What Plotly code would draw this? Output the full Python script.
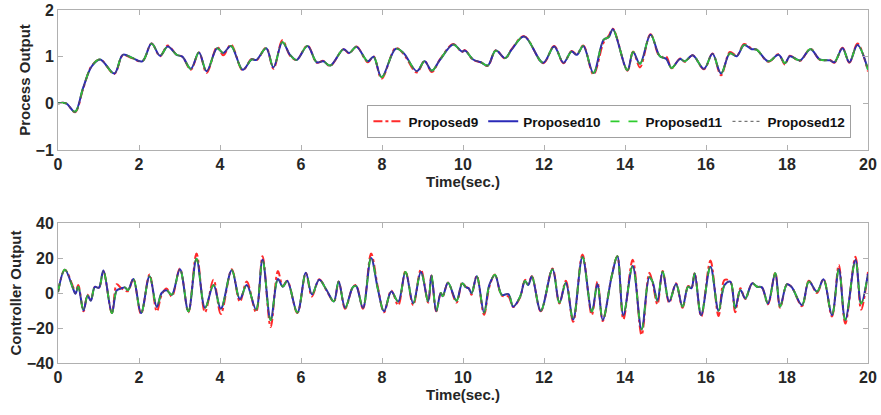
import plotly.graph_objects as go
from plotly.subplots import make_subplots

# ---- Process output (top panel) ----
t_top = [0, 0.2, 0.42, 0.62, 0.83, 1.04, 1.39, 1.6, 1.82, 2.08, 2.31, 2.52, 2.71, 2.93, 3.07,
         3.28, 3.48, 3.67, 3.93, 4.08, 4.27, 4.56, 4.78, 4.9, 5.14, 5.32, 5.54, 5.73, 5.89,
         6.16, 6.39, 6.55, 6.72, 7.05, 7.19, 7.37, 7.65, 7.79, 7.99, 8.34, 8.53, 8.86, 9.05,
         9.23, 9.43, 9.76, 9.97, 10.05, 10.25, 10.44, 10.61, 10.81, 11.04, 11.2, 11.51, 11.98,
         12.25, 12.48, 12.68, 12.81, 12.97, 13.22, 13.47, 13.6, 13.7, 14.06, 14.2, 14.37, 14.63,
         14.86, 15.02, 15.15, 15.36, 15.48, 15.67, 15.95, 16.16, 16.37, 16.59, 16.76, 16.94,
         17.13, 17.25, 17.54, 17.79, 17.95, 18.07, 18.32, 18.58, 18.81, 19.06, 19.17, 19.37,
         19.54, 19.74, 20.0]
y_p10 = [0, 0.0, -0.18, 0.33, 0.79, 0.94, 0.64, 1.04, 0.98, 0.90, 1.28, 1.02, 1.22, 1.04, 1.0,
         0.74, 1.09, 0.69, 1.18, 1.08, 1.23, 0.72, 0.94, 0.93, 1.18, 0.77, 1.31, 1.04, 0.93,
         1.23, 0.88, 0.90, 0.81, 1.16, 1.08, 1.21, 0.9, 1.0, 0.56, 1.17, 1.08, 0.69, 0.9,
         0.70, 0.93, 1.26, 1.11, 1.13, 0.94, 0.88, 0.81, 1.13, 0.97, 1.15, 1.43, 0.87,
         1.22, 0.87, 1.11, 1.04, 1.23, 0.65, 1.36, 1.42, 1.59, 0.71, 1.1, 0.85, 1.47,
         1.01, 0.95, 0.76, 0.95, 0.9, 1.03, 0.74, 1.06, 0.64, 1.07, 1.01, 1.25,
         1.16, 1.15, 0.9, 1.04, 0.86, 1.01, 0.92, 1.16, 0.94, 0.92, 0.88, 1.18,
         0.88, 1.25, 0.72]
y_p9 = [0, 0.0, -0.19, 0.31, 0.80, 0.94, 0.63, 1.03, 0.97, 0.90, 1.28, 1.01, 1.24, 1.04, 1.0,
        0.72, 1.09, 0.65, 1.21, 1.03, 1.26, 0.71, 0.95, 0.92, 1.19, 0.74, 1.35, 1.02, 0.93,
        1.24, 0.87, 0.91, 0.80, 1.16, 1.07, 1.22, 0.88, 1.01, 0.53, 1.19, 1.06, 0.66, 0.91,
        0.67, 0.94, 1.27, 1.10, 1.14, 0.93, 0.88, 0.80, 1.14, 0.96, 1.16, 1.44, 0.86,
        1.23, 0.86, 1.12, 1.05, 1.24, 0.62, 1.30, 1.45, 1.60, 0.70, 1.11, 0.77, 1.48,
        1.00, 1.00, 0.75, 0.96, 0.89, 1.03, 0.73, 1.07, 0.60, 1.10, 1.02, 1.27,
        1.17, 1.15, 0.89, 1.05, 0.83, 1.02, 0.91, 1.17, 0.93, 0.93, 0.87, 1.19,
        0.87, 1.28, 0.68]
y_p11 = list(y_p10)
y_p12 = list(y_p10)

# ---- Controller output (bottom panel) ----
t_bot = [0.0, 0.17, 0.38, 0.43, 0.5, 0.63, 0.73, 0.81, 0.91, 1.01, 1.12, 1.33, 1.45, 1.55, 1.65,
         1.73, 1.86, 2.05, 2.26, 2.44, 2.56, 2.68, 2.81, 3.01, 3.22, 3.42, 3.63, 3.84, 4.02,
         4.29, 4.49, 4.66, 4.89, 5.05, 5.25, 5.43, 5.55, 5.66, 5.91, 6.12, 6.27, 6.45, 6.63,
         6.81, 6.93, 7.09, 7.28, 7.36, 7.53, 7.73, 7.9, 8.05, 8.23, 8.4, 8.58, 8.77, 8.96,
         9.14, 9.22, 9.34, 9.45, 9.5, 9.63, 9.84, 9.98, 10.07, 10.14, 10.21, 10.34, 10.52,
         10.65, 10.79, 10.96, 11.12, 11.24, 11.41, 11.53, 11.61, 11.7, 11.92, 12.21, 12.38,
         12.54, 12.72, 12.95, 13.18, 13.32, 13.45, 13.67, 13.81, 13.96, 14.19, 14.41, 14.6,
         14.68, 14.8, 14.93, 15.09, 15.26, 15.42, 15.56, 15.64, 15.72, 15.88, 16.11, 16.31,
         16.46, 16.6, 16.72, 16.85, 16.97, 17.14, 17.26, 17.38, 17.53, 17.71, 17.83, 18.0,
         18.11, 18.37, 18.54, 18.74, 18.9, 19.11, 19.28, 19.44, 19.69, 19.83, 20.0]
u_p10 = [0.5, 13.3, 2, -0.5, 3.5, -10, -1.5, -4.5, 3.5, 3, 12.8, -11.5, 1.5, 2.5, 3.2,
         1.7, 8, -11.5, 9.5, -8, 0, 1.5, -1, 13.5, -10.5, 19.5, -8.5, 4.5, -9,
         13, -3.5, 4.5, -9.5, 19, -15.5, 8, 3.6, 6.8, -11.2, 11.5, -0.8, 7.5, 1.7,
         -4.8, 6.5, -8.5, 3.3, 4, -8.5, 20, 2, -10.5, 0.8, -4.9, 12, -5.9, 12,
         -4.9, 10, -10.3, 0, -1.8, 5.8, -4.4, 5.5, 3.3, 2.7, -0.2, 9.5, -11.2,
         4.6, 10.3, -1.1, -0.6, -7.8, -2.1, 6.9, 4.6, 9.4, -10.1, 13.5, -5.5,
         5.8, -15.1, 20.5, -10.6, 5.1, -15.4, 9.4, 21, -12.6, 15.4, -20.8, 9,
         6.5, -4.4, 12.2, -4.9, 5.1, -7.8, 3.6, 2.7, 11.2, -12.6, 15, -10.1,
         4.6, 6.5, -8.7, 1.7, -3.1, 5.5, 3.6, 3.2, -6, 11.3, -7.8, 5,
         3.6, -6.9, 6.5, 0.8, 7.8, -12.6, 13.5, -15.4, 18.9, -6, 11]
u_p9 = [0.5, 13.3, 3, 0, 4.5, -10.5, -1, -4, 3.5, 3, 12.5, -11.5, 5, 3, 1.5,
        1, 8, -12, 10.5, -10.5, -1, 2.5, -2, 14, -11, 22.5, -11, 7.5, -12,
        13.5, -5, 6.5, -11, 21, -19.5, 12.5, 4, 7, -11.5, 11.5, -2, 7.8, 1.5,
        -5, 6.5, -9, 3.5, 4.5, -9, 22.5, 3, -11, 1.5, -7, 12.5, -7, 13.5,
        -5.5, 10, -10.5, 0, -2, 6, -5.5, 6, 3.5, 2.7, -1, 10, -12.5,
        3.5, 10.5, -1.5, -2, -8, -2.5, 7.5, 5, 9.5, -10.5, 14, -6,
        7, -16.5, 22, -12.5, 6.5, -16, 9.5, 21, -15, 19, -24, 11.5,
        6, -6.5, 12.5, -5.5, 5.5, -8.5, 4, 2.7, 11.5, -13.5, 18.5, -13.1,
        7.5, 6.5, -11, 2.7, -3.5, 5.5, 3.6, 3.2, -6.5, 11.5, -8.5, 5,
        3.6, -7.5, 7, 0, 8, -13.5, 16, -17.5, 20.7, -9.5, 12]
u_p11 = list(u_p10)
u_p12 = list(u_p10)

names = ["Proposed9", "Proposed10", "Proposed11", "Proposed12"]
colors = ["#ff2a2a", "#2a2ab8", "#2ecc2e", "#555555"]
dashes = ["dashdot", "solid", "dash", "dot"]
widths = [2.0, 2.0, 1.8, 1.0]

FONT = "Arial, Liberation Sans, sans-serif"
TXT = "#262626"

fig = make_subplots(rows=2, cols=1)

top_series = [y_p9, y_p10, y_p11, y_p12]
bot_series = [u_p9, u_p10, u_p11, u_p12]
for i in range(4):
    fig.add_trace(go.Scatter(x=t_top, y=top_series[i], mode="lines", name=names[i],
                             line=dict(color=colors[i], dash=dashes[i], width=widths[i], shape="spline"),
                             showlegend=True), row=1, col=1)
for i in range(4):
    fig.add_trace(go.Scatter(x=t_bot, y=bot_series[i], mode="lines", name=names[i],
                             line=dict(color=colors[i], dash=dashes[i], width=widths[i], shape="spline"),
                             showlegend=False), row=2, col=1)

axis_common = dict(showline=True, linecolor="#b0b0b0", linewidth=1, mirror="ticks",
                   ticks="inside", ticklen=5, tickcolor="#b0b0b0", showgrid=False,
                   zeroline=False, automargin=False,
                   tickfont=dict(family=FONT, size=16, color=TXT, weight="bold"))

fig.update_xaxes(range=[0, 20], tickvals=[0, 2, 4, 6, 8, 10, 12, 14, 16, 18, 20],
                 title=dict(text="Time(sec.)", standoff=2,
                            font=dict(family=FONT, size=15, color=TXT, weight="bold")),
                 **axis_common)
fig.update_yaxes(**axis_common)
fig.update_yaxes(range=[-1, 2], tickvals=[-1, 0, 1, 2],
                 title=dict(text="Process Output", standoff=1,
                            font=dict(family=FONT, size=15, color=TXT, weight="bold")),
                 row=1, col=1)
fig.update_yaxes(range=[-40, 40], tickvals=[-40, -20, 0, 20, 40],
                 title=dict(text="Controller Output", standoff=1,
                            font=dict(family=FONT, size=15, color=TXT, weight="bold")),
                 row=2, col=1)

fig.update_layout(
    width=881, height=415,
    margin=dict(l=58, r=13, t=10, b=52),
    plot_bgcolor="white", paper_bgcolor="white",
    yaxis=dict(domain=[0.6034, 1.0]),
    yaxis2=dict(domain=[0.0, 0.3966]),
    legend=dict(orientation="h", x=0.382, y=0.684, xanchor="left", yanchor="middle",
                bgcolor="white", bordercolor="#a0a0a0", borderwidth=1,
                itemwidth=30, tracegroupgap=0,
                font=dict(family=FONT, size=13.5, color="#111111", weight="bold")),
)

fig.write_html("out.html", config={"displayModeBar": False},
               post_script="document.body.style.margin='0';")
